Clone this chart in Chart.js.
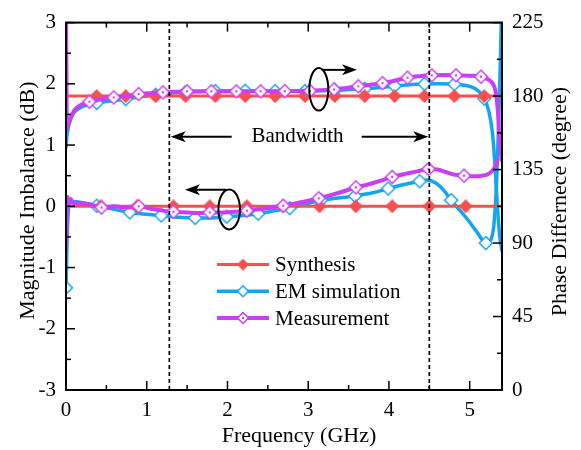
<!DOCTYPE html>
<html><head><meta charset="utf-8">
<script src="https://cdn.jsdelivr.net/npm/chart.js@4.4.1/dist/chart.umd.min.js"></script>
<style>html,body{margin:0;padding:0;background:#fff;}canvas{display:block;}</style>
</head><body>
<canvas id="c" width="581" height="450"></canvas>
<script>
// ---------- data ----------
const xTicks = [0, 1, 2, 3, 4, 5];
const magTicks = [-3, -2, -1, 0, 1, 2, 3];
const phaseTicks = [0, 45, 90, 135, 180, 225];
const bandEdges = [1.28, 4.5];
const legendLabels = ['Synthesis', 'EM simulation', 'Measurement'];

// Synthesis
const synMagFreq = [0, 0.43, 0.88, 1.33, 1.78, 2.24, 2.69, 3.14, 3.59, 4.04, 4.5, 4.95, 5.4];
const synMagVal  = [0, 0, 0, 0, 0, 0, 0, 0, 0, 0, 0, 0, 0];
const synMagMarks = [0.43, 0.88, 1.33, 1.78, 2.24, 2.69, 3.14, 3.59, 4.04, 4.5, 4.95];
const synPhFreq = [0, 0.38, 0.74, 1.11, 1.48, 1.85, 2.22, 2.59, 2.96, 3.33, 3.70, 4.07, 4.44, 4.81, 5.18, 5.4];
const synPhVal  = [180, 180, 180, 180, 180, 180, 180, 180, 180, 180, 180, 180, 180, 180, 180, 180];
const synPhMarks = [0.38, 0.74, 1.11, 1.48, 1.85, 2.22, 2.59, 2.96, 3.33, 3.70, 4.07, 4.44, 4.81, 5.18];

// EM simulation
const emMagFreq = [0, 0.02, 0.05, 0.1, 0.2, 0.38, 0.6, 0.79, 1.0, 1.18, 1.4, 1.6, 1.8, 1.99, 2.2, 2.38, 2.6, 2.77, 3.0, 3.16, 3.4, 3.58, 3.8, 3.99, 4.2, 4.38, 4.47, 4.58, 4.68, 4.77, 4.9, 5.0, 5.1, 5.2, 5.26, 5.3, 5.33, 5.36, 5.38, 5.4];
const emMagVal  = [-1.33, -0.3, 0.06, 0.08, 0.06, 0.01, -0.05, -0.1, -0.13, -0.15, -0.18, -0.19, -0.19, -0.17, -0.15, -0.12, -0.07, -0.03, 0.05, 0.1, 0.14, 0.17, 0.22, 0.29, 0.36, 0.41, 0.43, 0.38, 0.26, 0.1, -0.1, -0.26, -0.44, -0.6, -0.55, -0.3, 0.3, 1.4, 2.4, 3.5];
const emMagMarks = [0, 0.38, 0.79, 1.18, 1.6, 1.99, 2.38, 2.77, 3.16, 3.58, 3.99, 4.38, 4.77, 5.2];
const emPhFreq = [0, 0.01, 0.03, 0.06, 0.1, 0.2, 0.38, 0.55, 0.74, 0.9, 1.11, 1.3, 1.48, 1.7, 1.85, 2.0, 2.22, 2.4, 2.59, 2.8, 2.96, 3.15, 3.33, 3.5, 3.70, 3.9, 4.07, 4.25, 4.44, 4.6, 4.81, 4.95, 5.05, 5.12, 5.18, 5.24, 5.28, 5.31, 5.34, 5.37, 5.4];
const emPhVal  = [148, 155, 161, 166, 170, 173.5, 175.8, 177, 178.2, 179.5, 180.8, 181.8, 182.3, 182.8, 183, 183.2, 183.3, 183.2, 183, 183, 183, 183.3, 183.5, 184, 184.5, 185.3, 186.2, 187, 187.4, 187.5, 187.3, 186.5, 185, 182.5, 178.5, 170, 158, 140, 115, 95, 85];
const emPhMarks = [0.38, 0.74, 1.11, 1.48, 1.85, 2.22, 2.59, 2.96, 3.33, 3.70, 4.07, 4.44, 4.81, 5.18];

// Measurement
const meMagFreq = [0, 0.01, 0.02, 0.04, 0.06, 0.08, 0.12, 0.2, 0.3, 0.44, 0.6, 0.75, 0.9, 1.05, 1.2, 1.33, 1.5, 1.65, 1.78, 1.95, 2.1, 2.24, 2.4, 2.55, 2.69, 2.85, 3.0, 3.13, 3.3, 3.45, 3.59, 3.75, 3.9, 4.04, 4.2, 4.35, 4.49, 4.6, 4.7, 4.8, 4.93, 5.05, 5.15, 5.22, 5.28, 5.32, 5.35];
const meMagVal  = [-0.7, -0.3, 0.15, 0.05, 0.12, 0.06, 0.05, 0.05, 0.03, -0.02, 0.0, -0.02, 0.0, -0.04, -0.07, -0.09, -0.1, -0.11, -0.1, -0.1, -0.09, -0.07, -0.05, -0.02, 0.01, 0.05, 0.09, 0.13, 0.19, 0.25, 0.31, 0.36, 0.42, 0.48, 0.53, 0.57, 0.61, 0.6, 0.56, 0.52, 0.5, 0.49, 0.5, 0.52, 0.58, 0.66, 0.78];
const meMagMarks = [0.44, 0.9, 1.33, 1.78, 2.24, 2.69, 3.13, 3.59, 4.04, 4.49, 4.93];
const mePhFreq = [0, 0.005, 0.01, 0.03, 0.06, 0.1, 0.15, 0.2, 0.29, 0.4, 0.59, 0.75, 0.9, 1.05, 1.2, 1.35, 1.5, 1.65, 1.8, 1.95, 2.11, 2.25, 2.41, 2.55, 2.71, 2.85, 3.02, 3.17, 3.32, 3.47, 3.62, 3.77, 3.92, 4.08, 4.23, 4.38, 4.53, 4.68, 4.83, 5.0, 5.14, 5.22, 5.28, 5.32, 5.35, 5.37, 5.4];
const mePhVal  = [232, 200, 160, 163, 167, 171, 173.5, 175, 176.6, 177.8, 179.2, 180.2, 181.2, 181.8, 182.3, 182.6, 182.9, 182.9, 182.9, 182.8, 182.9, 183, 182.9, 183, 183, 183.1, 183.2, 183.6, 184.1, 185, 186, 187, 187.9, 189.5, 191.3, 192.2, 192.7, 192.9, 192.7, 192.5, 191.9, 190.5, 188, 183, 170, 152, 140];
const mePhMarks = [0.29, 0.59, 0.9, 1.2, 1.5, 1.8, 2.11, 2.41, 2.71, 3.02, 3.32, 3.62, 3.92, 4.23, 4.53, 4.83, 5.14];

// ---------- styling ----------
const FONT = '"Liberation Serif", "Times New Roman", serif';
Chart.defaults.font.family = FONT;
Chart.defaults.color = '#000';
const RED = '#f5504f', BLUE = '#13a5ef', PURPLE = '#cc3ef6';

function diamondImage(r, fill, stroke, lw, dot) {
  const s = 2 * Math.ceil(r + lw);
  const c = document.createElement('canvas'); c.width = s; c.height = s;
  const g = c.getContext('2d'); const m = s / 2;
  g.beginPath(); g.moveTo(m, m - r); g.lineTo(m + r, m); g.lineTo(m, m + r); g.lineTo(m - r, m); g.closePath();
  g.fillStyle = fill; g.fill();
  if (lw > 0) { g.lineWidth = lw; g.strokeStyle = stroke; g.stroke(); }
  if (dot) { g.beginPath(); g.arc(m, m, 1.2, 0, Math.PI * 2); g.fillStyle = stroke; g.fill(); }
  return c;
}
const redMk = diamondImage(7, RED, RED, 0, false);
const blueMk = diamondImage(6.5, '#fff', BLUE, 1.5, false);
const purpMk = diamondImage(6.5, '#fff', PURPLE, 1.5, true);
const legendMk = [diamondImage(6, RED, RED, 0, false), diamondImage(5.5, '#fff', BLUE, 1.5, false), diamondImage(5.5, '#fff', PURPLE, 1.5, true)];
const legendColors = [RED, BLUE, PURPLE];
const legendWidths = [3, 3.5, 4];

function makeSeries(label, freq, vals, marks, axis, color, width, img, order) {
  return {
    label, yAxisID: axis, order,
    data: freq.map((f, i) => ({ x: f, y: vals[i] })),
    borderColor: color, borderWidth: width, fill: false,
    cubicInterpolationMode: 'monotone',
    pointStyle: img,
    pointRadius: ctx => (ctx.raw && marks.includes(ctx.raw.x)) ? 6 : 0,
    pointHoverRadius: 0
  };
}

const datasets = [
  makeSeries('Measurement', meMagFreq, meMagVal, meMagMarks, 'y', PURPLE, 4, purpMk, 1),
  makeSeries('Measurement', mePhFreq, mePhVal, mePhMarks, 'y2', PURPLE, 4, purpMk, 1),
  makeSeries('Synthesis', synMagFreq, synMagVal, synMagMarks, 'y', RED, 3, redMk, 2),
  makeSeries('Synthesis', synPhFreq, synPhVal, synPhMarks, 'y2', RED, 3, redMk, 2),
  makeSeries('EM simulation', emMagFreq, emMagVal, emMagMarks, 'y', BLUE, 3.5, blueMk, 3),
  makeSeries('EM simulation', emPhFreq, emPhVal, emPhMarks, 'y2', BLUE, 3.5, blueMk, 3),
  ...bandEdges.map(f => ({
    label: 'edge', yAxisID: 'y', order: 0,
    data: [{ x: f, y: magTicks[0] }, { x: f, y: magTicks[magTicks.length - 1] }],
    borderColor: '#000', borderWidth: 1.7, borderDash: [4, 3], pointRadius: 0, tension: 0
  }))
];

function arrow(ctx, x1, y1, x2, y2) {
  const ang = Math.atan2(y2 - y1, x2 - x1), L = 15, W = 5.5, N = 4;
  const bx = x2 - L * Math.cos(ang), by = y2 - L * Math.sin(ang);
  ctx.beginPath(); ctx.moveTo(x1, y1); ctx.lineTo(x2 - 8 * Math.cos(ang), y2 - 8 * Math.sin(ang)); ctx.stroke();
  ctx.beginPath();
  ctx.moveTo(x2, y2);
  ctx.lineTo(bx - W * Math.sin(ang), by + W * Math.cos(ang));
  ctx.lineTo(x2 - (L - N) * Math.cos(ang), y2 - (L - N) * Math.sin(ang));
  ctx.lineTo(bx + W * Math.sin(ang), by - W * Math.cos(ang));
  ctx.closePath(); ctx.fill();
}

const deco = {
  id: 'deco',
  afterDatasetsDraw(chart) {
    const { ctx, chartArea: a, scales: { x, y, y2 } } = chart;
    ctx.save();
    ctx.strokeStyle = '#000'; ctx.lineWidth = 1.5;
    const seg = (x1, y1, x2, y2) => { ctx.beginPath(); ctx.moveTo(x1, y1); ctx.lineTo(x2, y2); ctx.stroke(); };
    for (let k = 0; k * 0.5 <= x.max + 1e-9; k++) {
      const px = x.getPixelForValue(k * 0.5), L = k % 2 === 0 ? 9 : 5;
      seg(px, a.bottom, px, a.bottom - L); seg(px, a.top, px, a.top + L);
    }
    for (let k = 0; k <= 12; k++) {
      const py = y.getPixelForValue(y.min + k * 0.5), L = k % 2 === 0 ? 9 : 5;
      seg(a.left, py, a.left + L, py);
    }
    for (let k = 0; k <= 10; k++) {
      const py = y2.getPixelForValue(k * 22.5), L = k % 2 === 0 ? 9 : 5;
      seg(a.right, py, a.right - L, py);
    }
    ctx.lineWidth = 2;
    ctx.strokeRect(a.left, a.top, a.right - a.left, a.bottom - a.top);
    ctx.restore();
  },
  afterDraw(chart) {
    const { ctx, chartArea: a, scales: { x, y } } = chart;
    ctx.save();
    ctx.fillStyle = '#000'; ctx.strokeStyle = '#000';
    // axis titles
    ctx.font = '22px ' + FONT; ctx.textAlign = 'center'; ctx.textBaseline = 'alphabetic';
    ctx.fillText('Frequency (GHz)', a.left + 233, 442);
    ctx.save(); ctx.translate(34, a.top + 178); ctx.rotate(-Math.PI / 2);
    ctx.fillText('Magnitude Imbalance (dB)', 0, 0); ctx.restore();
    ctx.save(); ctx.translate(566, a.top + 179); ctx.rotate(-Math.PI / 2);
    ctx.fillText('Phase Differnece (degree)', 0, 0); ctx.restore();
    // bandwidth
    ctx.font = '21px ' + FONT;
    ctx.fillText('Bandwidth', x.getPixelForValue(2.867), y.getPixelForValue(1.056));
    ctx.lineWidth = 2;
    arrow(ctx, x.getPixelForValue(2.052), y.getPixelForValue(1.137), x.getPixelForValue(1.297), y.getPixelForValue(1.137));
    arrow(ctx, x.getPixelForValue(3.662), y.getPixelForValue(1.137), x.getPixelForValue(4.487), y.getPixelForValue(1.137));
    // ellipses with axis arrows
    ctx.beginPath(); ctx.ellipse(x.getPixelForValue(3.131), y.getPixelForValue(1.911), 9.5, 21.3, 0, 0, Math.PI * 2); ctx.stroke();
    arrow(ctx, x.getPixelForValue(3.167), y.getPixelForValue(2.228), x.getPixelForValue(3.604), y.getPixelForValue(2.228));
    ctx.beginPath(); ctx.ellipse(x.getPixelForValue(2.021), y.getPixelForValue(-0.051), 10.8, 20, 0, 0, Math.PI * 2); ctx.stroke();
    arrow(ctx, x.getPixelForValue(1.982), y.getPixelForValue(0.27), x.getPixelForValue(1.474), y.getPixelForValue(0.27));
    // legend
    ctx.textAlign = 'left'; ctx.font = '21px ' + FONT;
    legendLabels.forEach((lab, i) => {
      const ly = a.top + 242 + i * 26.7;
      ctx.strokeStyle = legendColors[i]; ctx.lineWidth = legendWidths[i];
      ctx.beginPath(); ctx.moveTo(a.left + 151, ly); ctx.lineTo(a.left + 203, ly); ctx.stroke();
      const mk = legendMk[i];
      ctx.drawImage(mk, a.left + 177 - mk.width / 2, ly - mk.height / 2);
      ctx.fillStyle = '#000';
      ctx.fillText(lab, a.left + 209, ly + 6.5);
    });
    ctx.restore();
  }
};

const tickFont = { family: FONT, size: 21 };
new Chart(document.getElementById('c'), {
  type: 'line',
  data: { datasets },
  options: {
    responsive: false, animation: false, devicePixelRatio: 1, events: [],
    layout: { padding: { top: 17, left: 0, right: 0, bottom: 0 }, autoPadding: false },
    plugins: { legend: { display: false }, tooltip: { enabled: false } },
    scales: {
      x: {
        type: 'linear', position: 'bottom', min: xTicks[0], max: 5.4,
        grid: { display: false, drawTicks: false }, border: { display: false },
        ticks: { stepSize: 1, includeBounds: false, font: tickFont, color: '#000', padding: 8, maxRotation: 0,
          callback: v => xTicks.includes(v) ? String(v) : '' },
        afterFit: s => { s.height = 60; }
      },
      y: {
        type: 'linear', position: 'left', min: magTicks[0], max: magTicks[magTicks.length - 1],
        grid: { display: false, drawTicks: false }, border: { display: false },
        ticks: { stepSize: 1, font: tickFont, color: '#000', padding: 10, callback: v => magTicks.includes(v) ? String(v) : '' },
        afterFit: s => { s.width = 66; }
      },
      y2: {
        type: 'linear', position: 'right', min: phaseTicks[0], max: phaseTicks[phaseTicks.length - 1],
        grid: { display: false, drawTicks: false }, border: { display: false },
        ticks: { stepSize: 45, font: tickFont, color: '#000', padding: 10, callback: v => phaseTicks.includes(v) ? String(v) : '' },
        afterFit: s => { s.width = 79; }
      }
    }
  },
  plugins: [deco]
});
</script>
</body></html>
